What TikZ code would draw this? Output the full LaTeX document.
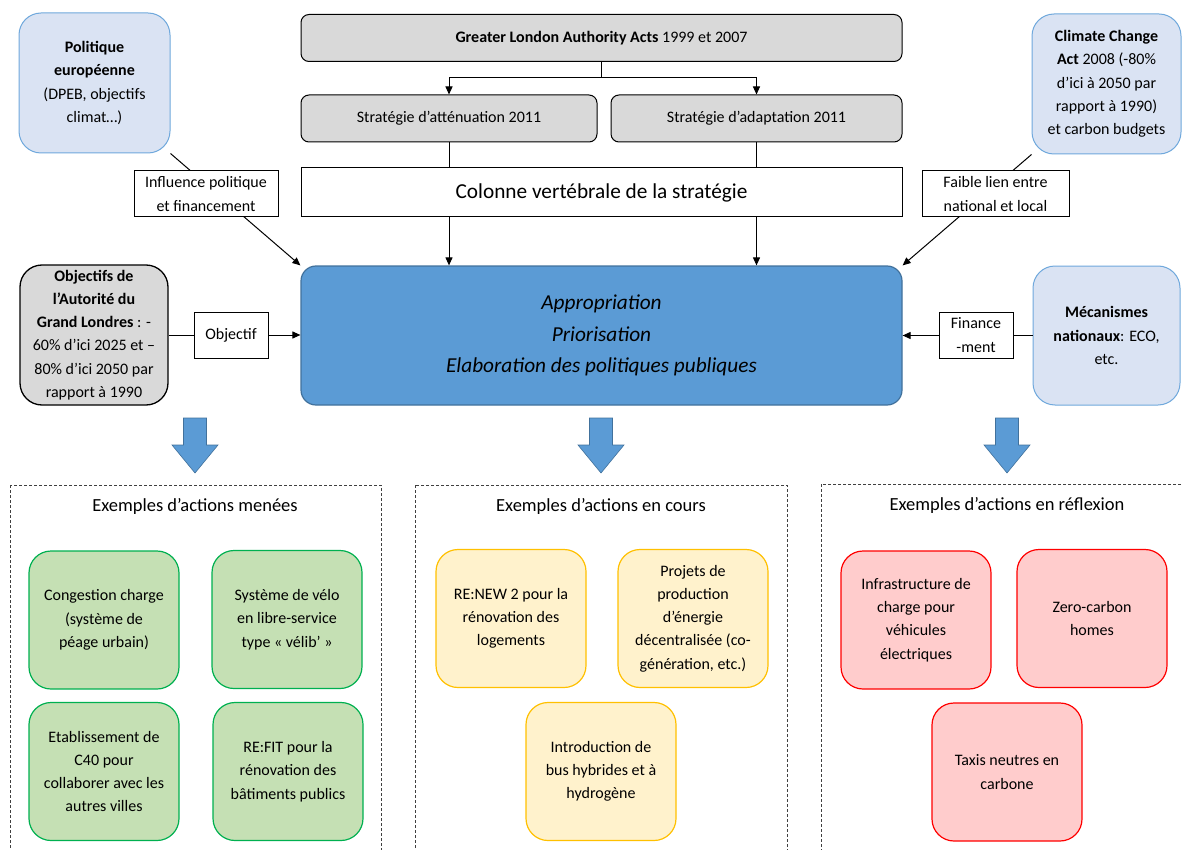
\documentclass[tikz,border=0pt]{standalone}
\usepackage{fontspec}
\setmainfont{Carlito}
\usetikzlibrary{arrows.meta}
\definecolor{mainblue}{HTML}{5B9BD5}
\definecolor{darkblue}{HTML}{41719C}
\definecolor{paleblue}{HTML}{DAE3F3}
\definecolor{paleblueline}{HTML}{6FA8DC}
\definecolor{palegray}{HTML}{D9D9D9}
\definecolor{palegreen}{HTML}{C5E0B4}
\definecolor{greenline}{HTML}{00B050}
\definecolor{paleyellow}{HTML}{FFF2CC}
\definecolor{yellowline}{HTML}{FFC000}
\definecolor{palered}{HTML}{FFCCCC}
\definecolor{redline}{HTML}{FF0000}
\tikzset{
  base/.style={align=center, inner sep=0pt, line width=1pt,
    font=\fontsize{16}{23.3}\selectfont},
  bigbox/.style={base, rounded corners=22pt, minimum width=150pt, minimum height=139pt},
  natbox/.style={bigbox, fill=paleblue, draw=paleblueline},
  goalbox/.style={bigbox, fill=palegray, draw=black, line width=1.3pt},
  graybox/.style={base, fill=palegray, draw=black, rounded corners=8pt, minimum height=47pt},
  spinebox/.style={base, fill=white, draw=black, minimum width=601pt, minimum height=49pt,
    font=\fontsize{21.3}{25}\selectfont},
  corebox/.style={base, fill=mainblue, draw=darkblue, line width=1.2pt, rounded corners=15pt,
    minimum width=601pt, minimum height=139pt, font=\fontsize{21.3}{31.5}\selectfont\itshape},
  tagbox/.style={base, fill=white, draw=black, minimum height=46pt},
  conn/.style={line width=1pt, -{Triangle[length=8pt,width=7pt]}},
  plain/.style={line width=1pt},
  blockarrow/.style={fill=mainblue, draw=darkblue, line width=0.6pt},
  dashbox/.style={draw=black!75, line width=0.9pt, dash pattern=on 3pt off 2pt},
  heading/.style={base, font=\fontsize{18.5}{22}\selectfont},
  actbox/.style={base, rounded corners=22pt, minimum width=150pt, minimum height=138pt, line width=1.2pt},
  donebox/.style={actbox, fill=palegreen, draw=greenline},
  ongoingbox/.style={actbox, fill=paleyellow, draw=yellowline},
  ideabox/.style={actbox, fill=palered, draw=redline},
}
\begin{document}
\begin{tikzpicture}[x=1pt, y=-1pt]
\useasboundingbox (0,0) rectangle (1182,850);
\clip (0,0) rectangle (1182,850);

% top chain of acts and strategies
\node[graybox, minimum width=601pt] (gla) at (601.5,38)
  {\textbf{Greater London Authority Acts} 1999 et 2007};
\node[graybox, minimum width=296pt] (att) at (449,118.5) {Stratégie d’atténuation 2011};
\node[graybox, minimum width=291pt] (ada) at (756.5,118.5) {Stratégie d’adaptation 2011};
\node[spinebox] (col) at (601.5,192.5) {Colonne vertébrale de la stratégie};
\node[corebox] (core) at (601.5,335.5)
  {Appropriation\\Priorisation\\Elaboration des politiques publiques};

% side inputs
\node[natbox, minimum width=151pt, minimum height=140pt] (pol) at (94.5,83)
  {\textbf{Politique}\\\textbf{européenne}\\(DPEB, objectifs\\climat…)};
\node[natbox, minimum width=149pt, minimum height=140pt] (cc) at (1106.5,84)
  {\textbf{Climate Change}\\\textbf{Act} 2008 (-80\%\\d’ici à 2050 par\\rapport à 1990)\\et carbon budgets};
\node[goalbox, minimum width=148pt, minimum height=140pt] (obj) at (94,335)
  {\textbf{Objectifs de}\\\textbf{l’Autorité du}\\\textbf{Grand Londres} : -\\60\% d’ici 2025 et –\\80\% d’ici 2050 par\\rapport à 1990};
\node[natbox, minimum width=147pt] (mec) at (1106.5,335.5)
  {\textbf{Mécanismes}\\\textbf{nationaux}: ECO,\\etc.};

% connectors
\draw[conn] (gla.south) -- ++(0,15.5) -| (att.north);
\draw[conn] (gla.south) -- ++(0,15.5) -| (ada.north);
\draw[plain] (att.south) -- (att.south |- col.north);
\draw[plain] (ada.south) -- (ada.south |- col.north);
\draw[conn] (att.south |- col.south) -- (att.south |- core.north);
\draw[conn] (ada.south |- col.south) -- (ada.south |- core.north);
\draw[conn] (pol.south east) -- (core.north west);
\draw[conn] (cc.south west) -- (core.north east);
\draw[conn] (obj.east) -- (obj.east -| core.west);
\draw[conn] (mec.west) -- (mec.west -| core.east);

% labels sitting on the connectors
\node[tagbox, minimum width=144pt] (infl) at (206,194) {Influence politique\\et financement};
\node[tagbox, minimum width=147pt] (weak) at (995.5,194) {Faible lien entre\\national et local};
\node[tagbox, minimum width=74pt] (objl) at (231,335) {Objectif};
\node[tagbox, minimum width=74pt] (finl) at (976,335) {Finance\\-ment};

% block arrows down to the three groups
\foreach \cx in {195,601,1007}
  \path[blockarrow] (\cx-11.5,418) -- (\cx+11.5,418) -- (\cx+11.5,445) -- (\cx+23,445)
    -- (\cx,473) -- (\cx-23,445) -- (\cx-11.5,445) -- cycle;

% group frames
\draw[dashbox] (10,485) rectangle (381,880);
\draw[dashbox] (415,485) rectangle (787,880);
\draw[dashbox] (821,484) rectangle (1200,880);
\node[heading] (h1) at (195,506) {Exemples d’actions menées};
\node[heading] (h2) at (601,506) {Exemples d’actions en cours};
\node[heading] (h3) at (1007,505) {Exemples d’actions en réflexion};

% actions carried out
\node[donebox] (g1) at (104,620) {Congestion charge\\(système de\\péage urbain)};
\node[donebox] (g2) at (287,619.5) {Système de vélo\\en libre-service\\type « vélib’ »};
\node[donebox] (g3) at (104,771.5) {Etablissement de\\C40 pour\\collaborer avec les\\autres villes};
\node[donebox] (g4) at (288,771.5) {RE:FIT pour la\\rénovation des\\bâtiments publics};

% actions under way
\node[ongoingbox] (y1) at (511,618.5) {RE:NEW 2 pour la\\rénovation des\\logements};
\node[ongoingbox] (y2) at (693,618.5) {Projets de\\production\\d’énergie\\décentralisée (co-\\génération, etc.)};
\node[ongoingbox] (y3) at (601,771.5) {Introduction de\\bus hybrides et à\\hydrogène};

% actions being considered
\node[ideabox] (r1) at (916,620) {Infrastructure de\\charge pour\\véhicules\\électriques};
\node[ideabox] (r2) at (1092,618.5) {Zero-carbon\\homes};
\node[ideabox] (r3) at (1007,772) {Taxis neutres en\\carbone};
\end{tikzpicture}
\end{document}
